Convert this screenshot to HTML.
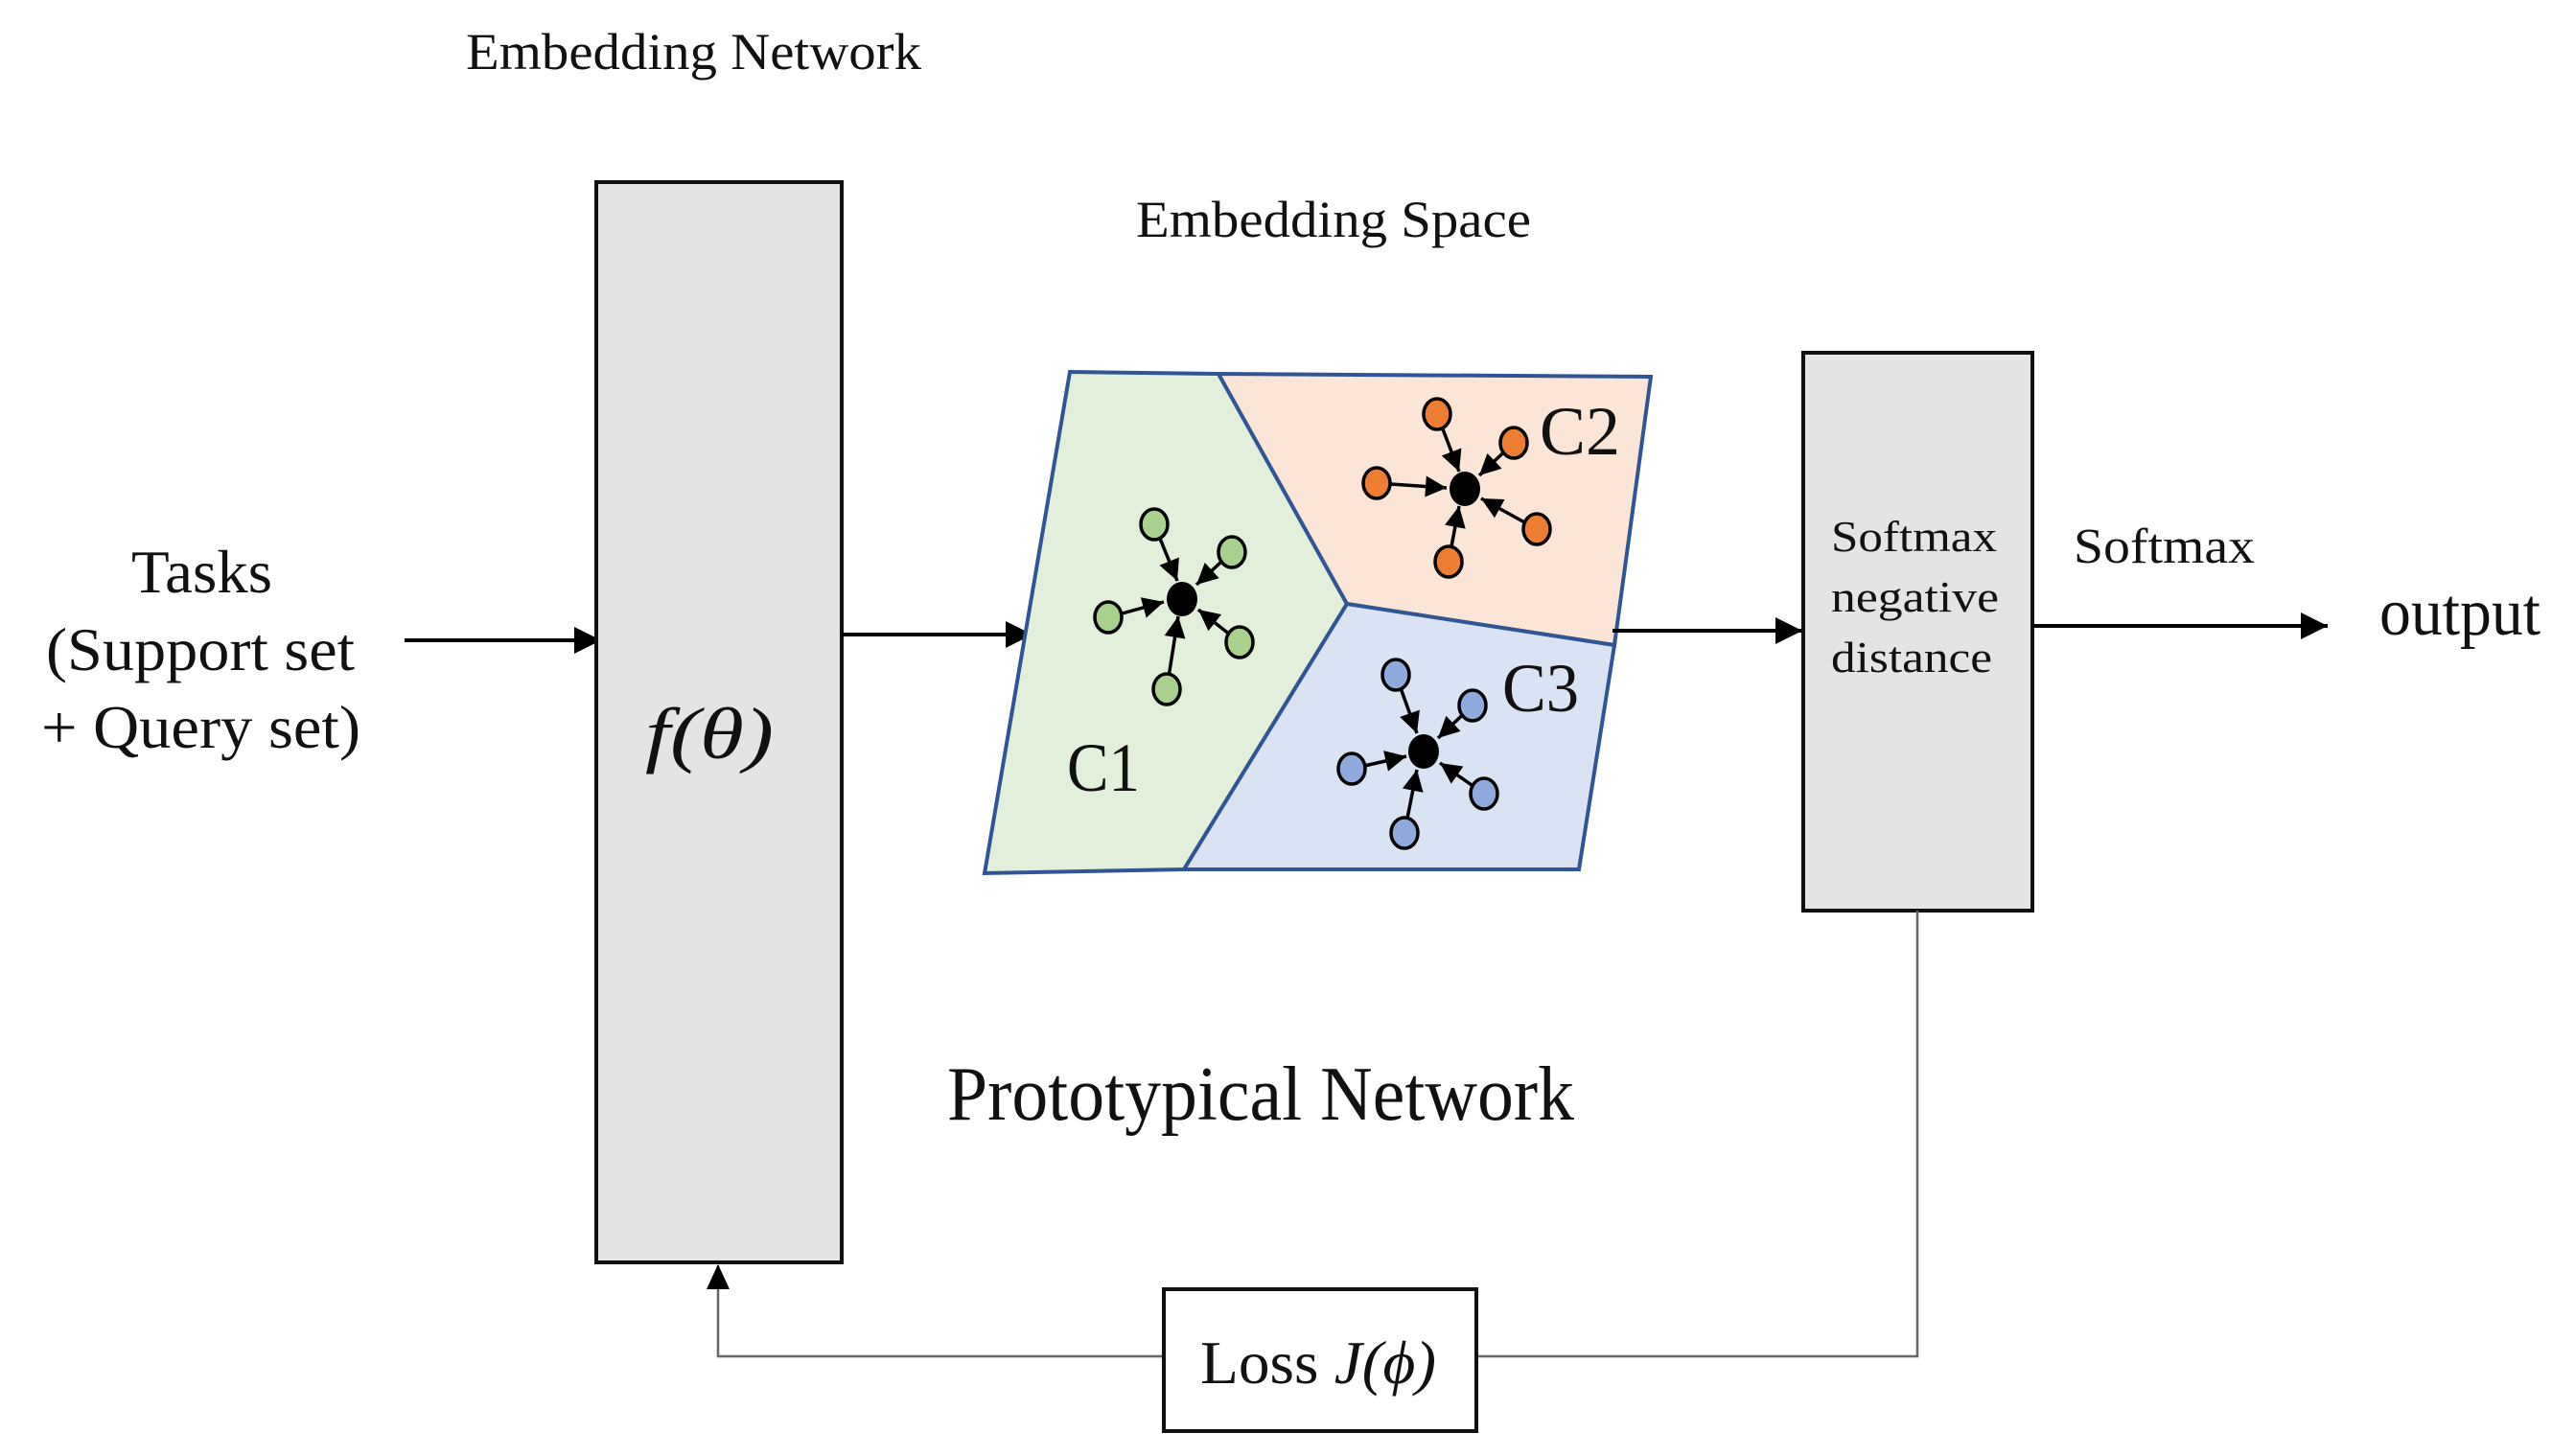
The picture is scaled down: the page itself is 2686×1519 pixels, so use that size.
<!DOCTYPE html>
<html><head><meta charset="utf-8"><style>html,body{margin:0;padding:0;background:#fff}svg{display:block}text{font-family:"Liberation Serif",serif;fill:#111}</style></head>
<body>
<svg width="2686" height="1519" viewBox="0 0 2686 1519" xmlns="http://www.w3.org/2000/svg">
<defs>
<marker id="big" viewBox="0 0 10 10" refX="10" refY="5" markerWidth="30" markerHeight="28" orient="auto" markerUnits="userSpaceOnUse"><path d="M0,0 L10,5 L0,10 z" fill="#000"/></marker>
<marker id="sm" viewBox="0 0 10 10" refX="10" refY="5" markerWidth="26" markerHeight="22" orient="auto" markerUnits="userSpaceOnUse"><path d="M0,0 L10,5 L0,10 z" fill="#000"/></marker>
</defs>
<text x="486" y="72" font-size="54" textLength="475" lengthAdjust="spacingAndGlyphs">Embedding Network</text>
<text x="1185" y="247" font-size="54" textLength="412" lengthAdjust="spacingAndGlyphs">Embedding Space</text>
<text x="137" y="618" font-size="64" textLength="147" lengthAdjust="spacingAndGlyphs">Tasks</text>
<text x="48" y="699" font-size="64" textLength="322" lengthAdjust="spacingAndGlyphs">(Support set</text>
<text x="43" y="780" font-size="64" textLength="333" lengthAdjust="spacingAndGlyphs">+ Query set)</text>
<line x1="422" y1="668" x2="627" y2="668" stroke="#000" stroke-width="4" marker-end="url(#big)"/>
<rect x="622" y="190" width="256" height="1127" fill="#e4e4e4" stroke="#111" stroke-width="4"/>
<text x="673" y="791" font-size="76" font-style="italic" textLength="134" lengthAdjust="spacingAndGlyphs">f(θ)</text>
<line x1="878" y1="662" x2="1077" y2="662" stroke="#000" stroke-width="4" marker-end="url(#big)"/>
<polygon points="1116,388 1271,390 1405,630 1235,907 1027,911" fill="#e2efda" stroke="#2f5597" stroke-width="4"/>
<polygon points="1271,390 1722,393 1684,673 1405,630" fill="#fbe5d6" stroke="#2f5597" stroke-width="4"/>
<polygon points="1405,630 1684,673 1647,907 1235,907" fill="#dae3f3" stroke="#2f5597" stroke-width="4"/>
<g stroke="#000" stroke-width="3.5">
<line x1="1204" y1="547" x2="1228" y2="606" marker-end="url(#sm)"/>
<line x1="1285" y1="576" x2="1248" y2="610" marker-end="url(#sm)"/>
<line x1="1156" y1="644" x2="1214" y2="628" marker-end="url(#sm)"/>
<line x1="1293" y1="670" x2="1250" y2="636" marker-end="url(#sm)"/>
<line x1="1217" y1="719" x2="1229" y2="643" marker-end="url(#sm)"/>
<line x1="1499" y1="432" x2="1522" y2="492" marker-end="url(#sm)"/>
<line x1="1579" y1="462" x2="1543" y2="496" marker-end="url(#sm)"/>
<line x1="1436" y1="504" x2="1509" y2="509" marker-end="url(#sm)"/>
<line x1="1603" y1="552" x2="1545" y2="520" marker-end="url(#sm)"/>
<line x1="1511" y1="586" x2="1522" y2="528" marker-end="url(#sm)"/>
<line x1="1456" y1="704" x2="1478" y2="765" marker-end="url(#sm)"/>
<line x1="1536" y1="736" x2="1500" y2="770" marker-end="url(#sm)"/>
<line x1="1410" y1="802" x2="1467" y2="789" marker-end="url(#sm)"/>
<line x1="1548" y1="828" x2="1502" y2="796" marker-end="url(#sm)"/>
<line x1="1465" y1="869" x2="1478" y2="803" marker-end="url(#sm)"/>
</g>
<g stroke="#000" stroke-width="3.5">
<g fill="#a9d18e"><ellipse cx="1204" cy="547" rx="14" ry="16"/><ellipse cx="1285" cy="576" rx="14" ry="16"/><ellipse cx="1156" cy="644" rx="14" ry="16"/><ellipse cx="1293" cy="670" rx="14" ry="16"/><ellipse cx="1217" cy="719" rx="14" ry="16"/></g>
<g fill="#ed7d31"><ellipse cx="1499" cy="432" rx="14" ry="16"/><ellipse cx="1579" cy="462" rx="14" ry="16"/><ellipse cx="1436" cy="504" rx="14" ry="16"/><ellipse cx="1603" cy="552" rx="14" ry="16"/><ellipse cx="1511" cy="586" rx="14" ry="16"/></g>
<g fill="#8faadc"><ellipse cx="1456" cy="704" rx="14" ry="16"/><ellipse cx="1536" cy="736" rx="14" ry="16"/><ellipse cx="1410" cy="802" rx="14" ry="16"/><ellipse cx="1548" cy="828" rx="14" ry="16"/><ellipse cx="1465" cy="869" rx="14" ry="16"/></g>
</g>
<ellipse cx="1233" cy="625" rx="16" ry="18" fill="#000"/>
<ellipse cx="1528" cy="510" rx="16" ry="18" fill="#000"/>
<ellipse cx="1485" cy="784" rx="16" ry="18" fill="#000"/>
<text x="1113" y="825" font-size="72" textLength="76" lengthAdjust="spacingAndGlyphs">C1</text>
<text x="1606" y="474" font-size="72" textLength="84" lengthAdjust="spacingAndGlyphs">C2</text>
<text x="1567" y="742" font-size="72" textLength="80" lengthAdjust="spacingAndGlyphs">C3</text>
<line x1="1682" y1="658" x2="1880" y2="658" stroke="#000" stroke-width="4" marker-end="url(#big)"/>
<rect x="1881" y="368" width="239" height="582" fill="#e4e4e4" stroke="#111" stroke-width="4"/>
<text x="1910" y="575" font-size="46" textLength="173" lengthAdjust="spacingAndGlyphs">Softmax</text>
<text x="1910" y="638" font-size="46" textLength="175" lengthAdjust="spacingAndGlyphs">negative</text>
<text x="1910" y="701" font-size="46" textLength="168" lengthAdjust="spacingAndGlyphs">distance</text>
<text x="2163" y="587" font-size="52" textLength="189" lengthAdjust="spacingAndGlyphs">Softmax</text>
<line x1="2120" y1="653" x2="2428" y2="653" stroke="#000" stroke-width="4" marker-end="url(#big)"/>
<text x="2482" y="662" font-size="70" textLength="168" lengthAdjust="spacingAndGlyphs">output</text>
<text x="988" y="1168" font-size="80" textLength="654" lengthAdjust="spacingAndGlyphs">Prototypical Network</text>
<polyline points="2000,950 2000,1415 1540,1415" fill="none" stroke="#666" stroke-width="2.5"/>
<polyline points="1212,1415 749,1415 749,1320" fill="none" stroke="#666" stroke-width="2.5"/>
<path d="M737,1345 L749,1319 L761,1345 z" fill="#000"/>
<rect x="1214" y="1345" width="326" height="148" fill="#fff" stroke="#111" stroke-width="4"/>
<text x="1252" y="1443" font-size="64" textLength="246" lengthAdjust="spacingAndGlyphs">Loss <tspan font-style="italic">J(ϕ)</tspan></text>
</svg>
</body></html>
